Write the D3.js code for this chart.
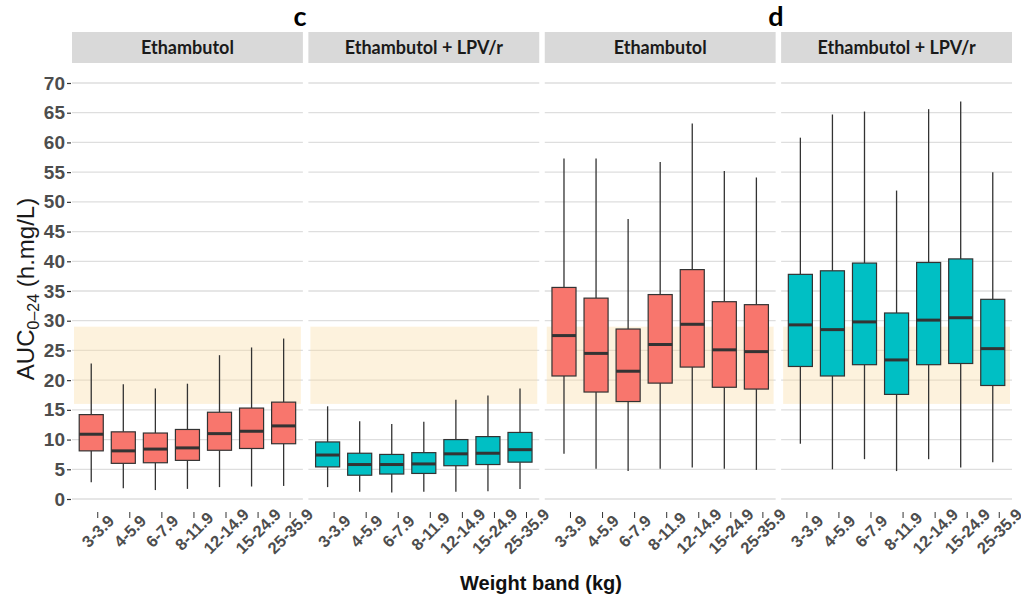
<!DOCTYPE html>
<html>
<head>
<meta charset="utf-8">
<script src="https://cdn.jsdelivr.net/npm/d3@7"></script>
<style>
  body { margin: 0; background: #ffffff; }
  svg { display: block; }
</style>
</head>
<body>
<svg id="chart" width="1021" height="600"></svg>
<script>
// Weight bands shared by every panel
const weightBands = ["3-3.9", "4-5.9", "6-7.9", "8-11.9", "12-14.9", "15-24.9", "25-35.9"];
const yTicks = [0, 5, 10, 15, 20, 25, 30, 35, 40, 45, 50, 55, 60, 65, 70];

// Box statistics per weight band: [lower whisker, Q1, median, Q3, upper whisker]
const cEthambutol    = [[2.8, 8.1, 10.9, 14.2, 22.8], [1.8, 6.0, 8.1, 11.3, 19.3], [1.5, 6.1, 8.4, 11.1, 18.6],
                        [1.7, 6.5, 8.6, 11.7, 19.4], [2.0, 8.2, 11.0, 14.6, 24.2], [2.1, 8.5, 11.4, 15.3, 25.5],
                        [2.2, 9.3, 12.3, 16.3, 27.0]];
const cEthambutolLpv = [[2.0, 5.4, 7.4, 9.6, 15.6], [1.2, 4.0, 5.8, 7.7, 13.1], [1.1, 4.2, 5.8, 7.5, 12.6],
                        [1.2, 4.3, 5.9, 7.8, 13.0], [1.2, 5.6, 7.6, 10.0, 16.7], [1.3, 5.8, 7.7, 10.5, 17.4],
                        [1.7, 6.2, 8.3, 11.2, 18.6]];
const dEthambutol    = [[7.6, 20.7, 27.5, 35.6, 57.3], [5.1, 18.0, 24.5, 33.8, 57.3], [4.7, 16.4, 21.5, 28.6, 47.1],
                        [5.1, 19.5, 26.0, 34.4, 56.7], [5.3, 22.2, 29.4, 38.6, 63.2], [5.1, 18.8, 25.1, 33.2, 55.2],
                        [4.9, 18.5, 24.8, 32.7, 54.1]];
const dEthambutolLpv = [[9.3, 22.3, 29.3, 37.8, 60.8], [5.0, 20.7, 28.5, 38.4, 64.7], [6.7, 22.6, 29.8, 39.7, 65.2],
                        [4.7, 17.6, 23.4, 31.3, 51.9], [6.7, 22.6, 30.1, 39.8, 65.6], [5.3, 22.8, 30.5, 40.4, 66.9],
                        [6.2, 19.1, 25.3, 33.6, 55.0]];

// Target exposure range shaded in every panel
const targetRange = [16, 29];

const panelTitles = ["Ethambutol", "Ethambutol + LPV/r", "Ethambutol", "Ethambutol + LPV/r"];
const panelStats  = [cEthambutol, cEthambutolLpv, dEthambutol, dEthambutolLpv];
const panelFills  = ["#F8766D", "#00BFC4", "#F8766D", "#00BFC4"];
const groupLabels = ["c", "d"];

const svg = d3.select("#chart");

// Layout
const plotLeft = 72, plotRight = 1012, panelGap = 5.5;
const panelW = (plotRight - plotLeft - 3 * panelGap) / 4;
const stripTop = 32, stripBottom = 63;
const panelTop = 64, panelBottom = 504;

const y = d3.scaleLinear().domain([0, 70]).range([499, 83]);

const axisInk = "#333333";
const tickText = "#4d4d4d";

panelTitles.forEach((title, p) => {
  const x0 = plotLeft + p * (panelW + panelGap);
  const x = d3.scalePoint().domain(weightBands).range([x0, x0 + panelW]).padding(0.6);
  const step = x.step();
  const boxW = step * 0.75;
  const g = svg.append("g");

  // strip
  g.append("rect").attr("x", x0).attr("y", stripTop).attr("width", panelW)
    .attr("height", stripBottom - stripTop).attr("fill", "#d9d9d9");
  g.append("text").attr("x", x0 + panelW / 2).attr("y", (stripTop + stripBottom) / 2 + 6)
    .attr("text-anchor", "middle").attr("font-family", "Lato, 'Open Sans', sans-serif")
    .attr("font-weight", 700).attr("font-size", 18).attr("fill", "#1a1a1a").text(title);

  // horizontal gridlines
  g.selectAll(".grid").data(yTicks).join("line")
    .attr("x1", x0).attr("x2", x0 + panelW)
    .attr("y1", d => y(d)).attr("y2", d => y(d))
    .attr("stroke", "#dedede").attr("stroke-width", 1.3);

  // target band
  g.append("rect")
    .attr("x", x0 + 2).attr("width", panelW - 4)
    .attr("y", y(targetRange[1])).attr("height", y(targetRange[0]) - y(targetRange[1]))
    .attr("fill", "rgba(250, 218, 160, 0.36)");

  // boxplots
  const stats = panelStats[p];
  const boxes = g.selectAll(".box").data(stats).join("g")
    .attr("transform", (d, i) => `translate(${x(weightBands[i])},0)`);
  boxes.append("line").attr("x1", 0).attr("x2", 0)
    .attr("y1", d => y(d[0])).attr("y2", d => y(d[1]))
    .attr("stroke", axisInk).attr("stroke-width", 1.3);
  boxes.append("line").attr("x1", 0).attr("x2", 0)
    .attr("y1", d => y(d[3])).attr("y2", d => y(d[4]))
    .attr("stroke", axisInk).attr("stroke-width", 1.3);
  boxes.append("rect")
    .attr("x", -boxW / 2).attr("width", boxW)
    .attr("y", d => y(d[3])).attr("height", d => y(d[1]) - y(d[3]))
    .attr("fill", panelFills[p]).attr("stroke", axisInk).attr("stroke-width", 1.2);
  boxes.append("line").attr("x1", -boxW / 2).attr("x2", boxW / 2)
    .attr("y1", d => y(d[2])).attr("y2", d => y(d[2]))
    .attr("stroke", axisInk).attr("stroke-width", 3);

  // x axis: ticks and rotated band labels
  const xAxis = d3.axisBottom(x).tickSize(6).tickSizeOuter(0);
  const ax = g.append("g").attr("transform", "translate(6,512)").call(xAxis);
  ax.select(".domain").remove();
  ax.selectAll(".tick line").attr("stroke", axisInk).attr("stroke-width", 1);
  ax.selectAll(".tick text")
    .attr("font-family", "'Liberation Sans', Arial, sans-serif").attr("font-weight", 700)
    .attr("font-size", 16.5).attr("fill", tickText)
    .attr("text-anchor", "middle").attr("dy", null).attr("y", null)
    .attr("dominant-baseline", "central")
    .attr("transform", "translate(0,19) rotate(-45)");
});

// y axis
const yAxis = d3.axisLeft(y).tickValues(yTicks).tickSize(4).tickPadding(2).tickSizeOuter(0);
const yAx = svg.append("g").attr("transform", `translate(${plotLeft - 1},0)`).call(yAxis);
yAx.select(".domain").remove();
yAx.selectAll(".tick line").attr("stroke", axisInk).attr("stroke-width", 1.2);
yAx.selectAll(".tick text")
  .attr("font-family", "'Liberation Sans', Arial, sans-serif").attr("font-weight", 700)
  .attr("font-size", 19).attr("fill", tickText);

// y axis title with subscript
const yTitle = svg.append("text")
  .attr("transform", "translate(34,289) rotate(-90)")
  .attr("text-anchor", "middle")
  .attr("font-family", "'Liberation Sans', Arial, sans-serif")
  .attr("font-size", 24).attr("fill", "#1a1a1a");
yTitle.append("tspan").text("AUC");
yTitle.append("tspan").attr("font-size", 16).attr("dy", 5).text("0\u201324");
yTitle.append("tspan").attr("dy", -5).text(" (h.mg/L)");

// x axis title
svg.append("text").attr("x", 541).attr("y", 590).attr("text-anchor", "middle")
  .attr("font-family", "'Liberation Sans', Arial, sans-serif").attr("font-weight", 700)
  .attr("font-size", 20).attr("fill", "#111111").text("Weight band (kg)");

// panel group letters
svg.selectAll(".group-label").data(groupLabels).join("text")
  .attr("x", (d, i) => i === 0 ? 300 : 776)
  .attr("y", 26).attr("text-anchor", "middle")
  .attr("font-family", "Lato, 'Open Sans', sans-serif").attr("font-weight", 700)
  .attr("font-size", 27).attr("fill", "#000000").text(d => d);
</script>
</body>
</html>
